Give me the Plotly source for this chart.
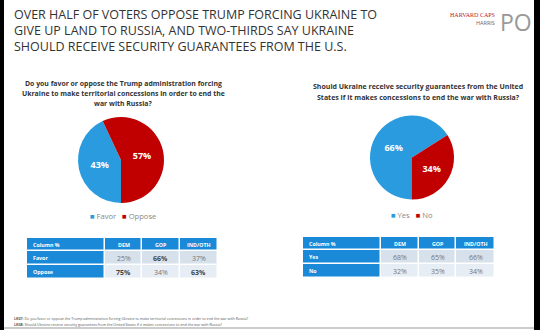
import plotly.graph_objects as go

# ---------------- data ----------------
title_lines = [
    "OVER HALF OF VOTERS OPPOSE TRUMP FORCING UKRAINE TO",
    "GIVE UP LAND TO RUSSIA, AND TWO-THIRDS SAY UKRAINE",
    "SHOULD RECEIVE SECURITY GUARANTEES FROM THE U.S.",
]
q1_lines = [
    "Do you favor or oppose the Trump administration forcing",
    "Ukraine to make territorial concessions in order to end the",
    "war with Russia?",
]
q2_lines = [
    "Should Ukraine receive security guarantees from the United",
    "States if it makes concessions to end the war with Russia?",
]
q1_labels = ["Favor", "Oppose"]
q1_values = [43, 57]
q2_labels = ["Yes", "No"]
q2_values = [66, 34]

table_header = ["Column %", "DEM", "GOP", "IND/OTH"]
t1_rows = ["Favor", "Oppose"]
t1_dem = ["25%", "75%"]
t1_gop = ["66%", "34%"]
t1_ind = ["37%", "63%"]
t1_bold = [[False, True], [True, False], [False, True]]
t2_rows = ["Yes", "No"]
t2_dem = ["68%", "32%"]
t2_gop = ["65%", "35%"]
t2_ind = ["66%", "34%"]
t2_bold = [[False, False], [False, False], [False, False]]

footnotes = [
    ("LK07:", "Do you favor or oppose the Trump administration forcing Ukraine to make territorial concessions in order to end the war with Russia?"),
    ("LK08:", "Should Ukraine receive security guarantees from the United States if it makes concessions to end the war with Russia?"),
]

# ---------------- style ----------------
W, H = 540, 330
BLUE = "#2b9be0"
RED = "#c00000"
HDR = "#1a8ad8"
CELL1 = "#d6e1ec"
CELL2 = "#e7edf4"
FONT = "Open Sans"


def px(x):
    return x / W


def py(y):
    return 1 - y / H


fig = go.Figure()

# pies
pie_specs = [
    (q1_labels, q1_values, [px(78), px(164)], [py(203), py(117)]),
    (q2_labels, q2_values, [px(370), px(454)], [py(200), py(115)]),
]
for labels, values, dx, dy in pie_specs:
    fig.add_trace(go.Pie(
        labels=labels, values=values, sort=False, direction="clockwise",
        rotation=180, marker=dict(colors=[BLUE, RED], line=dict(width=0)),
        texttemplate="<b>%{value}%</b>", textposition="inside",
        insidetextfont=dict(color="white", size=9, family=FONT),
        domain=dict(x=dx, y=dy), showlegend=False, hoverinfo="skip",
    ))

# tables (heatmap cells on their own axes)
col_edges = [0, 77, 114, 151, 189]
row_edges = [0, 13, 27, 41]
ann = []


def add_table(idx, x0, x1, y0, rows, dem, gop, ind, bold):
    xa = "x" if idx == 1 else f"x{idx}"
    ya = "y" if idx == 1 else f"y{idx}"
    z = [[0, 0, 0, 0], [0, 1, 1, 1], [0, 2, 2, 2]]
    fig.add_trace(go.Heatmap(
        x=col_edges, y=row_edges, z=z, zmin=0, zmax=2,
        colorscale=[[0, HDR], [0.5, CELL1], [1, CELL2]], showscale=False,
        xgap=1.5, ygap=1.5, hoverinfo="skip", xaxis=xa, yaxis=ya,
    ))
    xl = "xaxis" if idx == 1 else f"xaxis{idx}"
    yl = "yaxis" if idx == 1 else f"yaxis{idx}"
    fig.update_layout(**{
        xl: dict(domain=[px(x0), px(x1)], range=[col_edges[0], col_edges[-1]], visible=False,
                 fixedrange=True),
        yl: dict(domain=[py(y0 + row_edges[-1]), py(y0)], range=[row_edges[-1], row_edges[0]],
                 visible=False, fixedrange=True),
    })
    xcent = [(col_edges[i] + col_edges[i + 1]) / 2 for i in range(4)]
    ycent = [(row_edges[i] + row_edges[i + 1]) / 2 for i in range(3)]
    # header
    for j, h in enumerate(table_header):
        ann.append(dict(xref=xa, yref=ya, x=(4 if j == 0 else xcent[j]), y=ycent[0],
                        text=f"<b>{h}</b>", xanchor=("left" if j == 0 else "center"),
                        yanchor="middle", font=dict(size=5.3, color="white", family=FONT)))
    cols = [dem, gop, ind]
    for i, r in enumerate(rows):
        ann.append(dict(xref=xa, yref=ya, x=4, y=ycent[i + 1], text=f"<b>{r}</b>",
                        xanchor="left", yanchor="middle",
                        font=dict(size=5.3, color="white", family=FONT)))
        for j in range(3):
            v = cols[j][i]
            t = f"<b>{v}</b>" if bold[j][i] else v
            ann.append(dict(xref=xa, yref=ya, x=xcent[j + 1], y=ycent[i + 1], text=t,
                            xanchor="center", yanchor="middle",
                            font=dict(size=7, color=("#444" if bold[j][i] else "#777"),
                                      family=FONT)))


add_table(1, 27, 218, 238, t1_rows, t1_dem, t1_gop, t1_ind, t1_bold)
add_table(2, 303, 495, 237, t2_rows, t2_dem, t2_gop, t2_ind, t2_bold)

# legends
for (labels, cx, cy) in [(q1_labels, 123, 216), (q2_labels, 412, 215)]:
    txt = "   ".join(f"<span style='color:{c}'>■</span> {l}" for l, c in zip(labels, [BLUE, RED]))
    ann.append(dict(xref="paper", yref="paper", x=px(cx), y=py(cy), text=txt, xanchor="center",
                    yanchor="middle", font=dict(size=7.6, color="#888", family=FONT)))

for i, line in enumerate(title_lines):
    ann.append(dict(x=px(12), y=py(4 + 16 * i), text=line, xanchor="left", yanchor="top",
                    font=dict(size=12.5, color="#333", family=FONT)))
for i, line in enumerate(q1_lines):
    ann.append(dict(x=px(123), y=py(77 + 10 * i), text=f"<b>{line}</b>", xanchor="center",
                    yanchor="top", font=dict(size=6.9, color="#333", family=FONT)))
for i, line in enumerate(q2_lines):
    ann.append(dict(x=px(418), y=py(80 + 11 * i), text=f"<b>{line}</b>", xanchor="center",
                    yanchor="top", font=dict(size=7.0, color="#333", family=FONT)))
for i, (tag, txt) in enumerate(footnotes):
    ann.append(dict(x=px(12), y=py(314 + 6 * i), text=f"<b>{tag}</b> {txt}", xanchor="left",
                    yanchor="top", font=dict(size=3.6, color="#555", family=FONT)))
# logo
ann.append(dict(x=px(497), y=py(10), text="HARVARD CAPS", xanchor="right", yanchor="top",
                font=dict(size=6, color="#b22234", family="Liberation Serif")))
ann.append(dict(x=px(497), y=py(17), text="HARRIS", xanchor="right", yanchor="top",
                font=dict(size=5.5, color="#666", family=FONT)))
ann.append(dict(x=px(498), y=py(4), text="PO", xanchor="left", yanchor="top",
                font=dict(size=23, color="#999", family=FONT)))

for a in ann:
    a.setdefault("xref", "paper")
    a.setdefault("yref", "paper")
    a["showarrow"] = False

shapes = [
    dict(type="rect", xref="paper", yref="paper", x0=0, x1=px(4), y0=0, y1=1,
         fillcolor="black", line=dict(width=0)),
    dict(type="rect", xref="paper", yref="paper", x0=px(534), x1=1, y0=0, y1=1,
         fillcolor="black", line=dict(width=0)),
    dict(type="line", xref="paper", yref="paper", x0=px(4), x1=px(534), y0=py(328), y1=py(328),
         line=dict(color="#999", width=1)),
]

fig.update_layout(
    width=W, height=H, margin=dict(l=0, r=0, t=0, b=0),
    paper_bgcolor="white", plot_bgcolor="white",
    font=dict(family=FONT), showlegend=False,
    annotations=ann, shapes=shapes,
)

fig.write_html("out.html", config={"displayModeBar": False})
